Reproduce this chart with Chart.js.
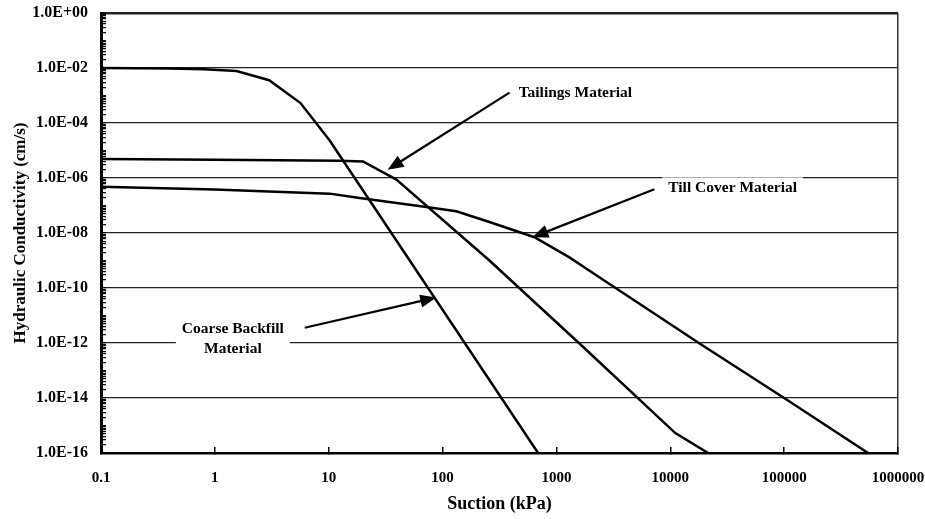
<!DOCTYPE html>
<html>
<head>
<meta charset="utf-8">
<script src="https://cdn.jsdelivr.net/npm/chart.js@4.4.1/dist/chart.umd.min.js"></script>
<style>
  html, body { margin: 0; padding: 0; background: #fff; }
  #wrap { width: 925px; height: 519px; position: relative; }
</style>
</head>
<body>
<div id="wrap"><canvas id="chart" width="925" height="519"></canvas></div>
<script>
// Axis tick values
const suctionTicks = [0.1, 1, 10, 100, 1000, 10000, 100000, 1000000];
const conductivityTicks = [1e-16, 1e-14, 1e-12, 1e-10, 1e-8, 1e-6, 1e-4, 1e-2, 1];

// Hydraulic conductivity functions (suction in kPa, k in cm/s)
const coarseSuction = [0.1, 0.4, 0.8, 1.55, 3, 5.65, 10.2, 690];
const coarseK       = [1.0e-2, 9.6e-3, 9.0e-3, 7.8e-3, 3.6e-3, 5.3e-4, 2.3e-5, 1e-16];

const tailingsSuction = [0.1, 1, 12.5, 20, 39.3, 258, 1690, 11070, 21500];
const tailingsK       = [4.9e-6, 4.6e-6, 4.2e-6, 4.0e-6, 8.75e-7, 1.0e-9, 7.6e-13, 5.3e-16, 1e-16];

const tillSuction = [0.1, 1, 10.2, 18.7, 72, 132, 258, 641, 1300, 2380, 6540, 17950, 100000, 546000];
const tillK       = [4.8e-7, 3.8e-7, 2.7e-7, 1.87e-7, 8.8e-8, 6.2e-8, 2.5e-8, 7.0e-9, 1.3e-9, 2.45e-10, 1.55e-11, 9.8e-13, 1.0e-14, 1e-16];

// Callout labels: text, label centre and arrow tail/tip, all in data units
const calloutText  = [["Tailings Material"], ["Till Cover Material"], ["Coarse Backfill", "Material"]];
const calloutAt    = [[1468, 1.2e-3], [35300, 4.2e-7], [1.44, 1.44e-12]];
const calloutTail  = [[387, 1.27e-3], [7250, 3.9e-7], [6.15, 3.6e-12]];
const calloutTip   = [[32.9, 2.0e-6], [615, 7.0e-9], [88, 4.5e-11]];
const calloutMask  = [false, true, true];

const toPoints = (xs, ys) => xs.map((v, i) => ({ x: v, y: ys[i] }));

// full set of log ticks for the conductivity axis: 1..9 x 10^n
const yAllTicks = [];
for (let n = -16; n <= 0; n++) {
  for (let k = 1; k <= 9; k++) {
    if (n === 0 && k > 1) break;
    yAllTicks.push(Number(k + 'e' + n));
  }
}
const isMajorY = v => conductivityTicks.some(t => Math.abs(Math.log10(v) - Math.log10(t)) < 1e-9);

const fmtK = v => {
  const e = Math.round(Math.log10(v));
  return '1.0E' + (e >= 0 ? '+' : '-') + String(Math.abs(e)).padStart(2, '0');
};
const fmtS = v => (v < 1 ? '0.1' : String(Math.round(v)));

const serif = '"Liberation Serif", "Times New Roman", serif';

const calloutPlugin = {
  id: 'callouts',
  afterDatasetsDraw(chart) {
    const { ctx } = chart;
    const xs = chart.scales.x, ys = chart.scales.y;
    ctx.save();
    ctx.font = 'bold 15.5px ' + serif;
    ctx.textAlign = 'center';
    ctx.textBaseline = 'middle';
    const lh = 20;
    calloutText.forEach((lines, i) => {
      const cx = xs.getPixelForValue(calloutAt[i][0]);
      const cy = ys.getPixelForValue(calloutAt[i][1]);
      const n = lines.length;
      if (calloutMask[i]) {
        const w = Math.max(...lines.map(l => ctx.measureText(l).width)) + 12;
        const h = n * lh + 2;
        ctx.fillStyle = '#fff';
        ctx.fillRect(cx - w / 2, cy - h / 2, w, h);
      }
      ctx.fillStyle = '#000';
      lines.forEach((l, j) => ctx.fillText(l, cx, cy + (j - (n - 1) / 2) * lh));

      // arrow
      const x0 = xs.getPixelForValue(calloutTail[i][0]);
      const y0 = ys.getPixelForValue(calloutTail[i][1]);
      const x1 = xs.getPixelForValue(calloutTip[i][0]);
      const y1 = ys.getPixelForValue(calloutTip[i][1]);
      const dx = x1 - x0, dy = y1 - y0, len = Math.hypot(dx, dy);
      const ux = dx / len, uy = dy / len;
      const head = 16, half = 6.5;
      const bx = x1 - ux * head, by = y1 - uy * head;
      ctx.strokeStyle = '#000';
      ctx.lineWidth = 2.2;
      ctx.beginPath();
      ctx.moveTo(x0, y0);
      ctx.lineTo(bx + ux * 2, by + uy * 2);
      ctx.stroke();
      ctx.beginPath();
      ctx.moveTo(x1, y1);
      ctx.lineTo(bx - uy * half, by + ux * half);
      ctx.lineTo(bx + uy * half, by - ux * half);
      ctx.closePath();
      ctx.fill();
    });
    ctx.restore();
  }
};

const lineStyle = { showLine: true, borderColor: '#000', borderWidth: 2.5, pointRadius: 0, tension: 0, fill: false };

new Chart(document.getElementById('chart'), {
  type: 'scatter',
  data: {
    datasets: [
      { label: 'Coarse Backfill Material', data: toPoints(coarseSuction, coarseK), ...lineStyle },
      { label: 'Tailings Material', data: toPoints(tailingsSuction, tailingsK), ...lineStyle },
      { label: 'Till Cover Material', data: toPoints(tillSuction, tillK), ...lineStyle }
    ]
  },
  options: {
    responsive: false,
    devicePixelRatio: 1,
    animation: false,
    layout: { padding: { left: 0, top: 13, right: 27, bottom: 0 } },
    plugins: { legend: { display: false }, tooltip: { enabled: false } },
    scales: {
      x: {
        type: 'logarithmic',
        position: 'bottom',
        min: 0.1,
        max: 1000000,
        afterBuildTicks: s => { s.ticks = suctionTicks.map(v => ({ value: v })); },
        afterFit: s => { s.height = 66; s.paddingLeft = 0; s.paddingRight = 0; },
        ticks: {
          autoSkip: false, maxRotation: 0, minRotation: 0,
          padding: 22, color: '#000',
          font: { family: serif, size: 15, weight: 'bold' },
          callback: v => fmtS(v)
        },
        grid: {
          drawOnChartArea: true,
          drawTicks: true,
          tickLength: -6,
          tickWidth: 1.5,
          tickColor: '#000',
          color: c => (c.tick && c.tick.value === 1000000 ? '#333' : 'rgba(0,0,0,0)'),
          lineWidth: 1.5
        },
        border: { display: true, color: '#000', width: 2.5 },
        title: {
          display: true, text: 'Suction (kPa)', color: '#000',
          font: { family: serif, size: 18, weight: 'bold' },
          padding: { top: 4, bottom: 4 }
        }
      },
      y: {
        type: 'logarithmic',
        position: 'left',
        min: 1e-16,
        max: 1,
        afterBuildTicks: s => { s.ticks = yAllTicks.map(v => ({ value: v })); },
        afterFit: s => { s.width = 101; s.paddingTop = 0; s.paddingBottom = 0; },
        ticks: {
          autoSkip: false, padding: 18, color: '#000',
          font: { family: serif, size: 16, weight: 'bold' },
          callback: v => (isMajorY(v) ? fmtK(v) : '')
        },
        grid: {
          drawOnChartArea: true,
          drawTicks: true,
          tickLength: -5,
          tickWidth: 1.2,
          tickColor: '#000',
          color: c => (c.tick && isMajorY(c.tick.value) ? '#222' : 'rgba(0,0,0,0)'),
          lineWidth: c => (c.tick && c.tick.value === 1 ? 2.5 : 1.3)
        },
        border: { display: true, color: '#000', width: 3 },
        title: {
          display: true, text: 'Hydraulic Conductivity (cm/s)', color: '#000',
          font: { family: serif, size: 17, weight: 'bold' },
          padding: { top: 10, bottom: 10 }
        }
      }
    }
  },
  plugins: [calloutPlugin]
});
</script>
</body>
</html>
